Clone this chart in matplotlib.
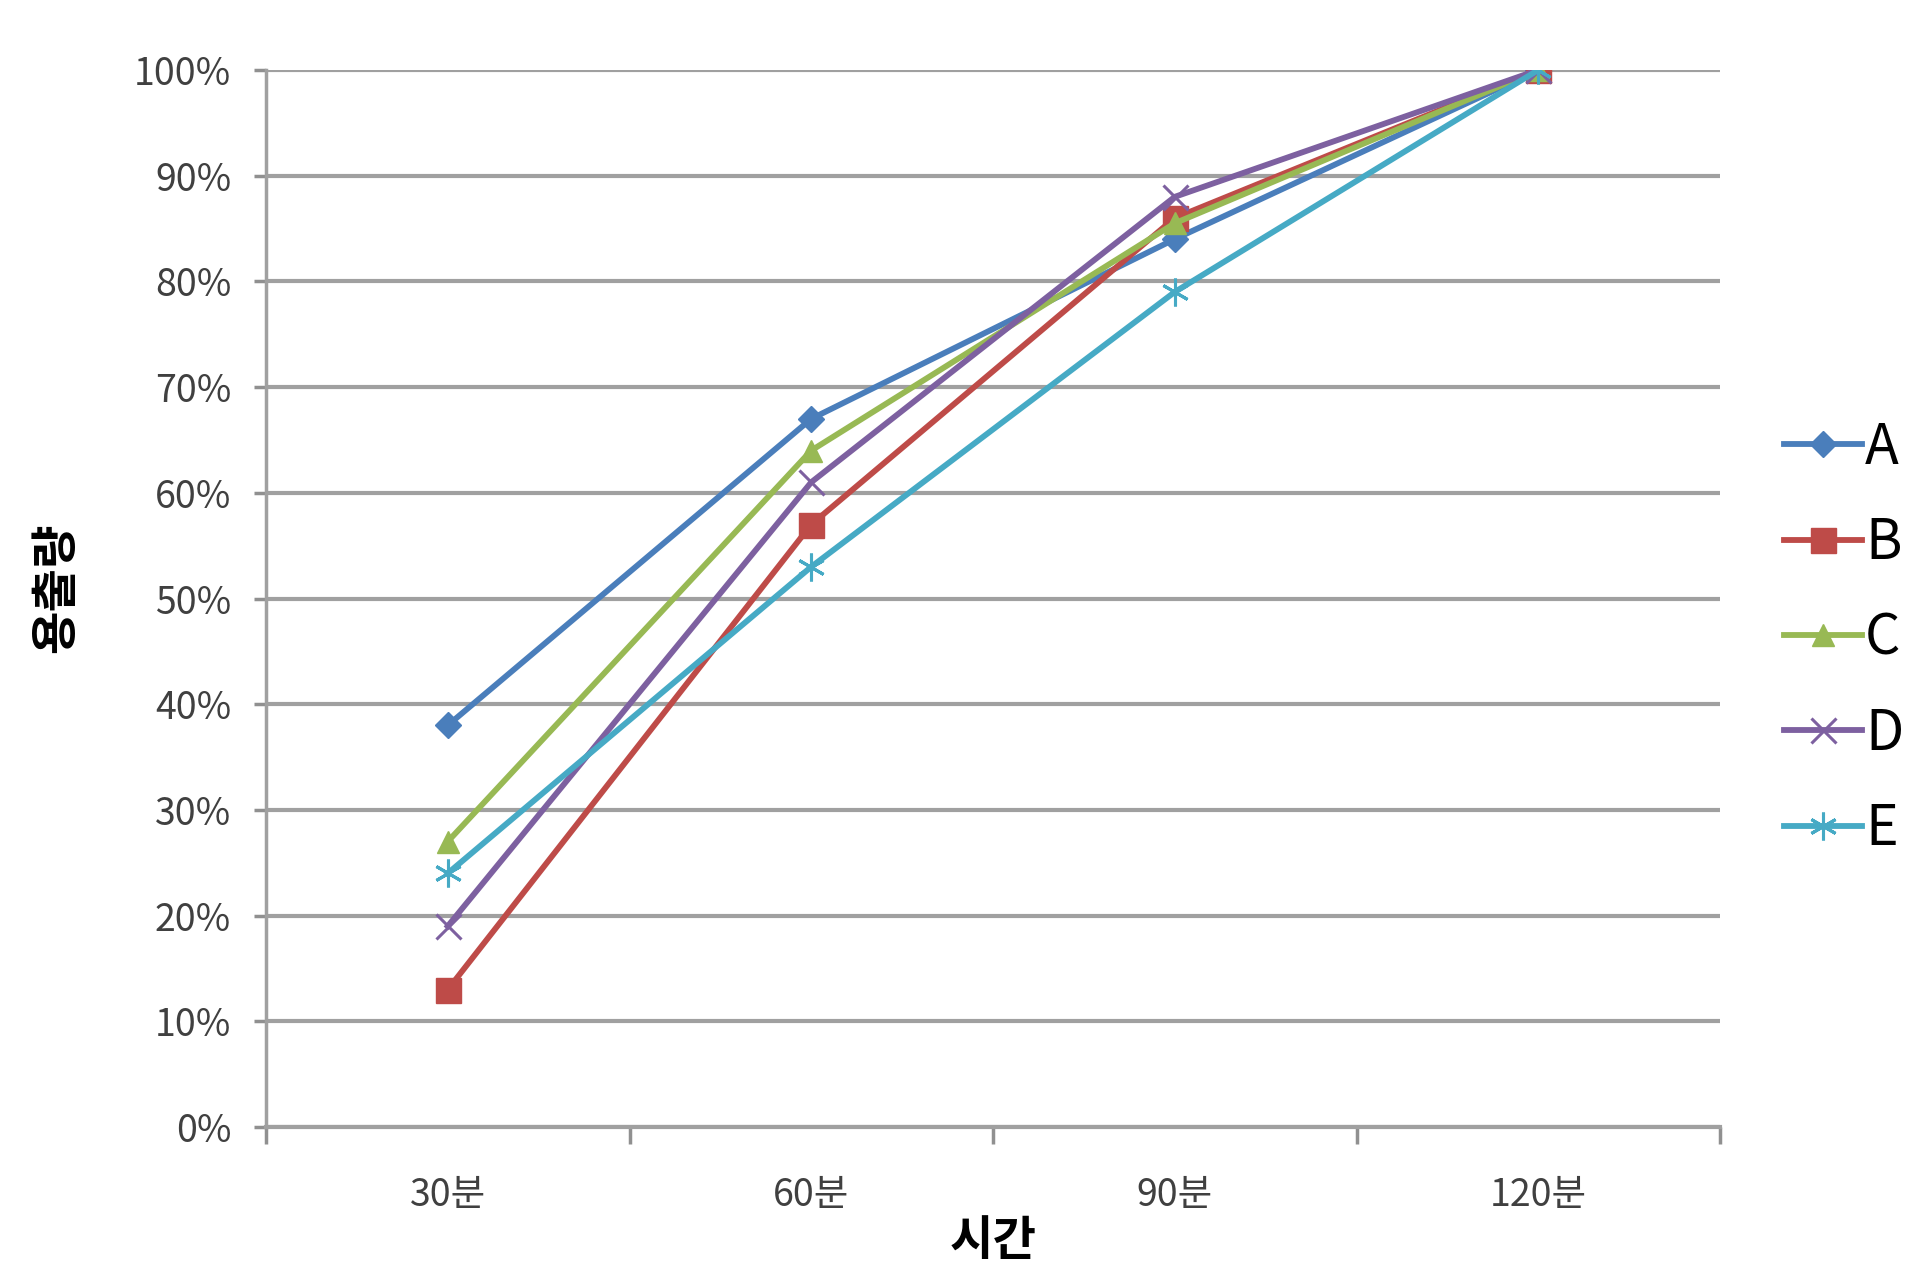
import matplotlib
matplotlib.use("Agg")
import matplotlib.pyplot as plt
from matplotlib.ticker import PercentFormatter, FixedLocator
import numpy as np

plt.rcParams['font.family'] = ['Noto Sans CJK KR', 'DejaVu Sans']

categories = ["30분", "60분", "90분", "120분"]
series_names = ["A", "B", "C", "D", "E"]
A = [38, 67, 84, 100]
B = [13, 57, 86, 100]
C = [27, 64, 85.5, 100]
D = [19, 61, 88, 100]
E = [24, 53, 79, 100]
yticks = [0, 10, 20, 30, 40, 50, 60, 70, 80, 90, 100]

data = [A, B, C, D, E]
colors = ["#4A7EBB", "#BE4B48", "#98B954", "#7D60A0", "#46AAC5"]
markers = ["D", "s", "^", "x", (6, 2, 0)]
msizes = [13, 18, 16, 18, 20]

fig = plt.figure(figsize=(19.2, 12.72), dpi=100)
ax = fig.add_axes([266/1920, 1 - 1127/1272, (1720-266)/1920, (1127-70)/1272])

x = np.arange(len(categories)) + 0.5
for name, vals, c, m, ms in zip(series_names, data, colors, markers, msizes):
    ax.plot(x, vals, color=c, lw=4.2, marker=m, markersize=ms,
            markeredgewidth=2.2 if (m == "x" or isinstance(m, tuple)) else 1,
            markerfacecolor=c, markeredgecolor=c, label=name, zorder=3)

ax.set_xlim(0, len(categories))
ax.set_ylim(0, 100)
ax.yaxis.set_major_locator(FixedLocator(yticks))
ax.yaxis.set_major_formatter(PercentFormatter(decimals=0))
ax.set_xticks(x)
ax.set_xticklabels(categories)
ax.xaxis.set_minor_locator(FixedLocator(np.arange(len(categories) + 1)))
ax.tick_params(axis='x', which='major', length=0, pad=35, labelsize=27)
ax.tick_params(axis='x', which='minor', length=12, width=2.5, color='#909090', direction='out')
ax.tick_params(axis='y', length=9, width=2.5, color='#909090', labelsize=27, pad=16)
for lbl in ax.get_xticklabels() + ax.get_yticklabels():
    lbl.set_color('#404040')

ax.grid(axis='y', color='#A0A0A0', lw=3)
ax.set_axisbelow(True)
for s in ['top', 'right']:
    ax.spines[s].set_visible(False)
ax.spines['left'].set_color('#A0A0A0')
ax.spines['left'].set_linewidth(2.5)
ax.spines['bottom'].set_color('#A0A0A0')
ax.spines['bottom'].set_linewidth(3)

ax.set_xlabel("시간", fontsize=34, fontweight='bold', labelpad=2)
ax.set_ylabel("용출량", fontsize=34, fontweight='bold')
ax.yaxis.set_label_coords(-0.128, 0.51)

leg = ax.legend(loc='center left', bbox_to_anchor=(1.029, 0.462), frameon=False,
                fontsize=40, handlelength=1.4, handletextpad=0.05,
                labelspacing=0.68, borderaxespad=0)

fig.savefig("out.png", dpi=100, facecolor='white')
